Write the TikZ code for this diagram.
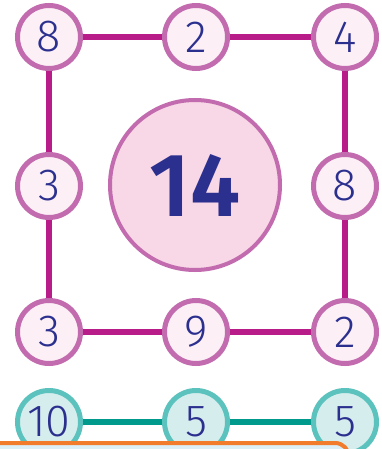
\documentclass[tikz,border=0pt]{standalone}
\usepackage{fontspec}
\setmainfont{Fira Sans}
\newfontfamily\manoletra{Fira Sans Light}
\newfontfamily\gruesa{Fira Sans SemiBold}
\definecolor{numblue}{RGB}{43,47,142}
\definecolor{ringpink}{RGB}{194,107,175}
\definecolor{fillpink}{RGB}{252,239,246}
\definecolor{bigpink}{RGB}{248,215,230}
\definecolor{linkmagenta}{RGB}{184,28,137}
\definecolor{ringteal}{RGB}{91,194,189}
\definecolor{fillteal}{RGB}{213,237,237}
\definecolor{linkteal}{RGB}{0,154,140}
\definecolor{boxorange}{RGB}{240,124,44}
\definecolor{boxblue}{RGB}{220,239,247}
\tikzset{
  numcirc/.style={circle, draw=ringpink, fill=fillpink, line width=5pt,
    minimum size=63pt, inner sep=0pt, text=numblue,
    font=\manoletra\fontsize{45}{45}\selectfont},
  tealcirc/.style={numcirc, draw=ringteal, fill=fillteal},
  bigcirc/.style={circle, draw=ringpink, fill=bigpink, line width=4pt,
    minimum size=170pt, inner sep=0pt, text=numblue,
    font=\gruesa\fontsize{90}{90}\selectfont},
  enlace/.style={line width=6.5pt, draw=linkmagenta},
}
\begin{document}
\begin{tikzpicture}[x=1pt,y=-1pt]
\useasboundingbox (0,0) rectangle (382,449);
% Cuadro de nueve casillas
\foreach \nombre/\x/\y/\num in {a/49/37/8, b/196/37/2, c/345/37/4,
    d/49/186/3, e/345/186/8, f/49/332/3, g/196/332/9, h/345/332/2}
  \node[numcirc] (\nombre) at (\x,\y) {\num};
\draw[enlace] (a) -- (b) -- (c) -- (e) -- (h) -- (g) -- (f) -- (d) -- (a);
\node[bigcirc] (centro) at (195,185) {14};
% Fila turquesa
\node[tealcirc] (t1) at (49,422) {10};
\node[tealcirc] (t2) at (196,422) {5};
\node[tealcirc] (t3) at (345,422) {5};
\draw[enlace, draw=linkteal] (t1) -- (t2) -- (t3);
% Caja inferior
\draw[boxorange, fill=boxblue, line width=4pt, rounded corners=14pt]
  (-20,443) rectangle (349,520);
\end{tikzpicture}
\end{document}
